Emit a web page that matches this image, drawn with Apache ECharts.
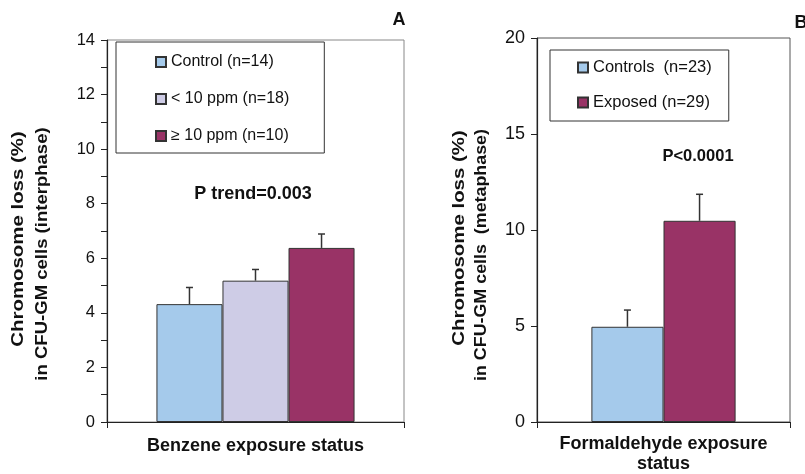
<!DOCTYPE html>
<html><head><meta charset="utf-8">
<script src="https://cdn.jsdelivr.net/npm/echarts@6/dist/echarts.min.js"></script>
<style>html,body{margin:0;padding:0;background:#fff}#c{width:805px;height:474px}</style>
</head><body><div id="c"></div>
<script>
// Panel A data
const namesA = ['Control (n=14)', '< 10 ppm (n=18)', '\u2265 10 ppm (n=10)'];
const valuesA = [4.32, 5.18, 6.38];
const errTopA = [4.93, 5.59, 6.89];
const colorsA = ['#A5CAEB', '#CECCE6', '#993366'];
const catA = ['Benzene exposure status'];
const ticksA = [0, 2, 4, 6, 8, 10, 12, 14];
// Panel B data
const namesB = ['Controls  (n=23)', 'Exposed (n=29)'];
const valuesB = [4.96, 10.48];
const errTopB = [5.83, 11.86];
const colorsB = ['#A5CAEB', '#993366'];
const catB = ['Formaldehyde exposure\nstatus'];
const ticksB = [0, 5, 10, 15, 20];

const FONT = 'Liberation Sans, Arial, sans-serif';
const gapA = 0.333, gapB = 0.43;

function errSeries(xi, yi, vals, tops, n, gap) {
  return {
    type: 'custom', xAxisIndex: xi, yAxisIndex: yi, z: 5, silent: true,
    data: vals.map((v, i) => [0, v, tops[i], i]),
    renderItem: function (params, api) {
      const band = api.size([1, 0])[0];
      const bw = band * (1 - gap) / n;
      const idx = api.value(3);
      const base = api.coord([0, api.value(1)]);
      const top = api.coord([0, api.value(2)]);
      const x = base[0] + (idx - (n - 1) / 2) * bw;
      const st = { stroke: '#333', lineWidth: 1.5 };
      return { type: 'group', children: [
        { type: 'line', shape: { x1: x, y1: base[1], x2: x, y2: top[1] }, style: st },
        { type: 'line', shape: { x1: x - 3.5, y1: top[1], x2: x + 3.5, y2: top[1] }, style: st }
      ]};
    }
  };
}

const series = [];
namesA.forEach((nm, i) => series.push({
  name: nm, type: 'bar', xAxisIndex: 0, yAxisIndex: 0, data: [valuesA[i]],
  barGap: 0, barCategoryGap: (gapA * 100) + '%',
  itemStyle: { color: colorsA[i], borderColor: '#333', borderWidth: 1 }
}));
namesB.forEach((nm, i) => series.push({
  name: nm, type: 'bar', xAxisIndex: 1, yAxisIndex: 1, data: [valuesB[i]],
  barGap: 0, barCategoryGap: (gapB * 100) + '%',
  itemStyle: { color: colorsB[i], borderColor: '#333', borderWidth: 1 }
}));
series.push(errSeries(0, 0, valuesA, errTopA, 3, gapA));
series.push(errSeries(1, 1, valuesB, errTopB, 2, gapB));

const axisLineStyle = { color: '#222', width: 1.2 };
function xAx(gi, cat, margin) {
  return {
    type: 'category', gridIndex: gi, data: cat,
    axisLine: { lineStyle: axisLineStyle },
    axisTick: { show: true, length: 6, lineStyle: { color: '#222' } },
    axisLabel: { fontFamily: FONT, fontSize: 18, fontWeight: 'bold', color: '#111', margin: margin, lineHeight: 20 }
  };
}
function yAx(gi, max, interval, ticks, fs) {
  return {
    type: 'value', gridIndex: gi, min: 0, max: max, interval: interval,
    axisLine: { show: true, lineStyle: axisLineStyle },
    axisTick: { show: true, length: 6, lineStyle: { color: '#222' } },
    splitLine: { show: false },
    axisLabel: { fontFamily: FONT, fontSize: fs, color: '#111', margin: 12,
      formatter: v => ticks.indexOf(v) >= 0 ? String(v) : '' }
  };
}

function ytitle(x, y, text, sx) {
  return { type: 'text', x: x, y: y, rotation: Math.PI / 2, scaleX: sx,
    style: { text: text, font: 'bold 17px ' + FONT, fill: '#111', align: 'center', verticalAlign: 'middle' } };
}

const chart = echarts.init(document.getElementById('c'));
chart.setOption({
  animation: false,
  backgroundColor: '#fff',
  grid: [
    { left: 107, top: 40, right: 401, bottom: 52, show: true, borderColor: '#888', borderWidth: 1 },
    { left: 537, top: 38, right: 15, bottom: 52, show: true, borderColor: '#555', borderWidth: 1 }
  ],
  xAxis: [xAx(0, catA, 14), xAx(1, catB, 12)],
  yAxis: [yAx(0, 14, 1, ticksA, 16.5), yAx(1, 20, 5, ticksB, 18)],
  legend: [
    { data: namesA, orient: 'vertical', left: 116, top: 42, itemWidth: 10, itemHeight: 10,
      icon: 'rect', itemGap: 21, padding: [12, 35, 9, 39], borderColor: '#333', borderWidth: 1,
      textStyle: { fontFamily: FONT, fontSize: 16, color: '#111' }, selectedMode: false },
    { data: namesB, orient: 'vertical', left: 550, top: 50, itemWidth: 10, itemHeight: 10,
      icon: 'rect', itemGap: 18, padding: [9, 17, 10, 27], borderColor: '#333', borderWidth: 1,
      textStyle: { fontFamily: FONT, fontSize: 16.5, color: '#111' }, selectedMode: false }
  ],
  graphic: [
    ytitle(18, 239, 'Chromosome loss (%)', 1.2),
    ytitle(42, 254, 'in CFU-GM cells (interphase)', 1.09),
    ytitle(459, 238, 'Chromosome loss (%)', 1.2),
    ytitle(481, 255, 'in CFU-GM cells  (metaphase)', 1.05),
    { type: 'text', x: 253, y: 194, style: { text: 'P trend=0.003', font: 'bold 18px ' + FONT, fill: '#111', align: 'center', verticalAlign: 'middle' } },
    { type: 'text', x: 698, y: 156, style: { text: 'P<0.0001', font: 'bold 16.5px ' + FONT, fill: '#111', align: 'center', verticalAlign: 'middle' } },
    { type: 'text', x: 399, y: 20, style: { text: 'A', font: 'bold 18px ' + FONT, fill: '#111', align: 'center', verticalAlign: 'middle' } },
    { type: 'text', x: 801, y: 23, style: { text: 'B', font: 'bold 18px ' + FONT, fill: '#111', align: 'center', verticalAlign: 'middle' } }
  ],
  series: series
});
</script></body></html>
